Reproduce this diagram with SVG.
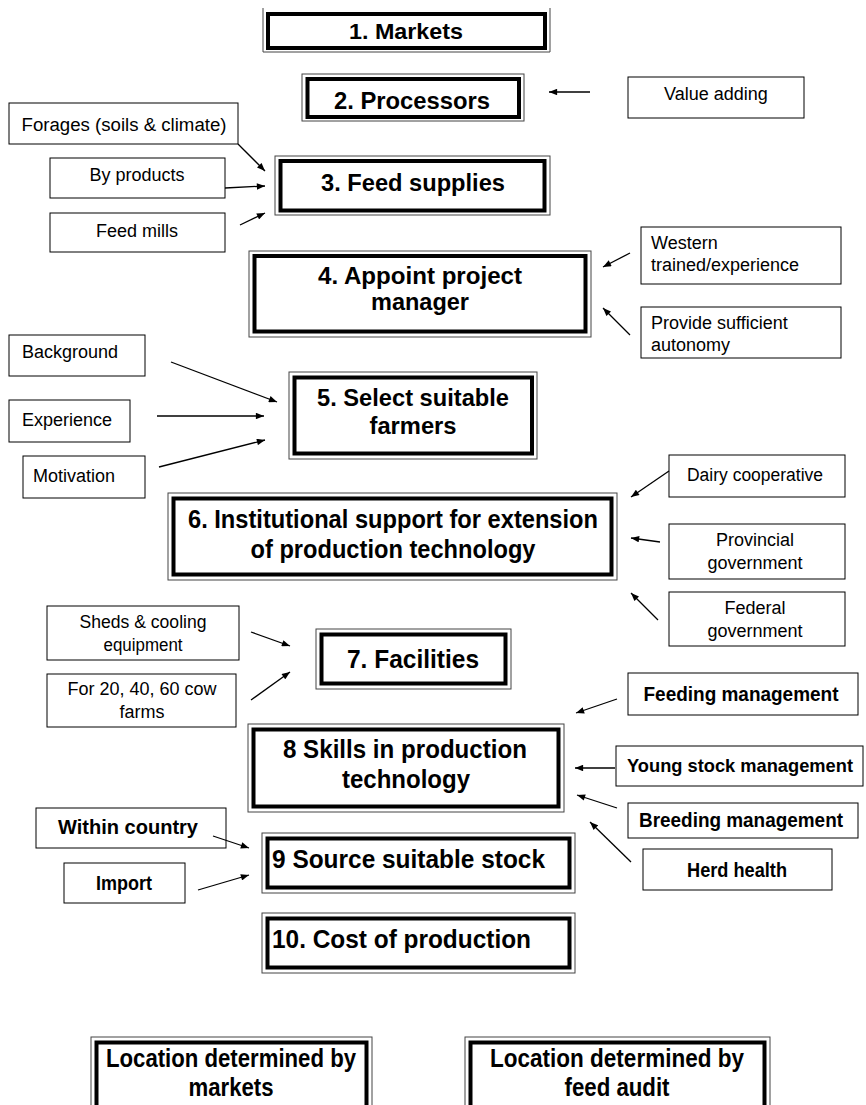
<svg xmlns="http://www.w3.org/2000/svg" width="866" height="1105" viewBox="0 0 866 1105">
<style>
.o{fill:none;stroke:#444;stroke-width:1}
.i{fill:none;stroke:#000;stroke-width:4}
.b{fill:#fff;stroke:#000;stroke-width:1}
.h{font-family:"Liberation Sans",Arial,sans-serif;font-weight:bold;font-size:23px;fill:#000;text-anchor:middle}
.n{font-family:"Liberation Sans",Arial,sans-serif;font-weight:bold;font-size:25px;fill:#000;text-anchor:middle}
.s{font-family:"Liberation Sans",Arial,sans-serif;font-size:18px;fill:#000;text-anchor:middle}
.sl{font-family:"Liberation Sans",Arial,sans-serif;font-size:18px;fill:#000}
.sb{font-family:"Liberation Sans",Arial,sans-serif;font-weight:bold;font-size:21px;fill:#000;text-anchor:middle}
.c line{stroke:#000;stroke-width:1.3;marker-end:url(#a)}
</style>
<defs>
<marker id="a" viewBox="0 0 10 8" refX="10" refY="4" markerWidth="9" markerHeight="6.5" markerUnits="userSpaceOnUse" orient="auto"><path d="M0,0 L10,4 L0,8 z" fill="#000"/></marker>
</defs>
<rect width="866" height="1105" fill="#fff"/>

<g id="n1"><path class="o" d="M263,8 V52 H550 V8"/><rect class="i" x="268" y="14" width="277" height="34"/><text class="h" x="406" y="39" style="font-size:22px" textLength="114" lengthAdjust="spacingAndGlyphs">1. Markets</text></g>
<g id="n2"><rect class="o" x="302" y="74" width="222" height="47"/><rect class="i" x="307.5" y="79" width="211.5" height="38"/><text class="h" x="412" y="109" textLength="156" lengthAdjust="spacingAndGlyphs">2. Processors</text></g>
<g id="va"><rect class="b" x="628" y="77" width="176" height="41"/><text class="s" x="716" y="100">Value adding</text></g>
<g id="fo"><rect class="b" x="9" y="103" width="229" height="41"/><text class="s" x="124" y="131" textLength="205" lengthAdjust="spacingAndGlyphs">Forages (soils &amp; climate)</text></g>
<g id="bp"><rect class="b" x="50" y="158" width="175" height="40"/><text class="s" x="137" y="181">By products</text></g>
<g id="fm"><rect class="b" x="50" y="213" width="175" height="39"/><text class="s" x="137" y="237">Feed mills</text></g>
<g id="n3"><rect class="o" x="275" y="156" width="275" height="59"/><rect class="i" x="280.5" y="161" width="264" height="49.5"/><text class="h" x="413" y="191" textLength="184" lengthAdjust="spacingAndGlyphs">3. Feed supplies</text></g>
<g id="we"><rect class="b" x="641" y="227" width="200" height="57"/><text class="sl" x="651" y="249">Western</text><text class="sl" x="651" y="271">trained/experience</text></g>
<g id="pa"><rect class="b" x="641" y="307" width="200" height="51"/><text class="sl" x="651" y="329">Provide sufficient</text><text class="sl" x="651" y="351">autonomy</text></g>
<g id="n4"><rect class="o" x="249" y="251" width="342" height="86"/><rect class="i" x="254.5" y="256" width="331" height="75.5"/><text class="h" x="420" y="284" textLength="204" lengthAdjust="spacingAndGlyphs">4. Appoint project</text><text class="h" x="420" y="310" textLength="98" lengthAdjust="spacingAndGlyphs">manager</text></g>
<g id="bg"><rect class="b" x="9" y="335" width="136" height="41"/><text class="sl" x="22" y="358">Background</text></g>
<g id="ex"><rect class="b" x="9" y="400" width="121" height="42"/><text class="sl" x="22" y="426">Experience</text></g>
<g id="mo"><rect class="b" x="23" y="456" width="122" height="42"/><text class="sl" x="33" y="482">Motivation</text></g>
<g id="n5"><rect class="o" x="289" y="372" width="248" height="87"/><rect class="i" x="294.5" y="377.5" width="237.5" height="76"/><text class="h" x="413" y="406" textLength="192" lengthAdjust="spacingAndGlyphs">5. Select suitable</text><text class="h" x="413" y="434" textLength="87" lengthAdjust="spacingAndGlyphs">farmers</text></g>
<g id="dc"><rect class="b" x="669" y="455" width="176" height="42"/><text class="s" x="755" y="481" textLength="136" lengthAdjust="spacingAndGlyphs">Dairy cooperative</text></g>
<g id="pg"><rect class="b" x="669" y="524" width="176" height="55"/><text class="s" x="755" y="546">Provincial</text><text class="s" x="755" y="569">government</text></g>
<g id="fg"><rect class="b" x="669" y="592" width="176" height="54"/><text class="s" x="755" y="614">Federal</text><text class="s" x="755" y="637">government</text></g>
<g id="n6"><rect class="o" x="168" y="493" width="449" height="87"/><rect class="i" x="173.5" y="498.5" width="438" height="76"/><text class="n" x="393" y="528" textLength="410" lengthAdjust="spacingAndGlyphs">6. Institutional support for extension</text><text class="n" x="393" y="558" textLength="285" lengthAdjust="spacingAndGlyphs">of production technology</text></g>
<g id="sh"><rect class="b" x="47" y="606" width="192" height="54"/><text class="s" x="143" y="628" textLength="127" lengthAdjust="spacingAndGlyphs">Sheds &amp; cooling</text><text class="s" x="143" y="651" textLength="79" lengthAdjust="spacingAndGlyphs">equipment</text></g>
<g id="fc"><rect class="b" x="47" y="674" width="189" height="53"/><text class="s" x="142" y="695">For 20, 40, 60 cow</text><text class="s" x="142" y="718">farms</text></g>
<g id="n7"><rect class="o" x="316" y="629" width="195" height="60"/><rect class="i" x="321.5" y="634.5" width="184" height="49"/><text class="n" x="413" y="668" textLength="132" lengthAdjust="spacingAndGlyphs">7. Facilities</text></g>
<g id="fd"><rect class="b" x="628" y="673" width="230" height="42"/><text class="sb" x="741" y="701" textLength="195" lengthAdjust="spacingAndGlyphs">Feeding management</text></g>
<g id="ys"><rect class="b" x="616" y="746" width="247" height="40"/><text class="sb" x="740" y="772" style="font-size:19px" textLength="226" lengthAdjust="spacingAndGlyphs">Young stock management</text></g>
<g id="br"><rect class="b" x="628" y="803" width="230" height="35"/><text class="sb" x="741" y="827" textLength="204" lengthAdjust="spacingAndGlyphs">Breeding management</text></g>
<g id="hh"><rect class="b" x="643" y="849" width="189" height="41"/><text class="sb" x="737" y="877" textLength="100" lengthAdjust="spacingAndGlyphs">Herd health</text></g>
<g id="n8"><rect class="o" x="248" y="724" width="316" height="88"/><rect class="i" x="253.5" y="729.5" width="305" height="77"/><text class="n" x="405" y="758" textLength="244" lengthAdjust="spacingAndGlyphs">8 Skills in production</text><text class="n" x="406" y="788" textLength="128" lengthAdjust="spacingAndGlyphs">technology</text></g>
<g id="wc"><rect class="b" x="36" y="808" width="190" height="40"/><text class="sb" x="128" y="834" textLength="140" lengthAdjust="spacingAndGlyphs">Within country</text></g>
<g id="im"><rect class="b" x="64" y="863" width="121" height="40"/><text class="sb" x="124" y="890" textLength="56" lengthAdjust="spacingAndGlyphs">Import</text></g>
<g id="n9"><rect class="o" x="262" y="833" width="313" height="60"/><rect class="i" x="267.5" y="838.5" width="302" height="49"/><text class="n" x="272" y="868" style="text-anchor:start" textLength="273" lengthAdjust="spacingAndGlyphs">9 Source suitable stock</text></g>
<g id="n10"><rect class="o" x="262" y="913" width="313" height="60"/><rect class="i" x="267.5" y="918.5" width="302" height="49"/><text class="n" x="272" y="948" style="text-anchor:start" textLength="259" lengthAdjust="spacingAndGlyphs">10. Cost of production</text></g>
<g id="l1"><rect class="o" x="91" y="1037" width="281" height="90"/><rect class="i" x="96.5" y="1042.5" width="270" height="90"/><text class="n" x="231" y="1067" textLength="250" lengthAdjust="spacingAndGlyphs">Location determined by</text><text class="n" x="231" y="1096" textLength="85" lengthAdjust="spacingAndGlyphs">markets</text></g>
<g id="l2"><rect class="o" x="465" y="1037" width="305" height="90"/><rect class="i" x="470.5" y="1042.5" width="294" height="90"/><text class="n" x="617" y="1067" textLength="254" lengthAdjust="spacingAndGlyphs">Location determined by</text><text class="n" x="617" y="1096" textLength="105" lengthAdjust="spacingAndGlyphs">feed audit</text></g>

<g id="connectors" class="c">
<line x1="590" y1="92" x2="549" y2="92"/>
<line x1="238" y1="144" x2="265" y2="171"/>
<line x1="225" y1="188" x2="265" y2="186"/>
<line x1="240" y1="225" x2="265" y2="213"/>
<line x1="630" y1="253" x2="603" y2="267"/>
<line x1="630" y1="335" x2="603" y2="308"/>
<line x1="171" y1="362" x2="277" y2="402"/>
<line x1="157" y1="416" x2="264" y2="416"/>
<line x1="159" y1="467" x2="265" y2="440"/>
<line x1="669" y1="471" x2="631" y2="497"/>
<line x1="660" y1="542" x2="631" y2="538"/>
<line x1="658" y1="620" x2="631" y2="593"/>
<line x1="251" y1="632" x2="290" y2="646"/>
<line x1="251" y1="700" x2="290" y2="672"/>
<line x1="617" y1="699" x2="576" y2="713"/>
<line x1="615" y1="768" x2="575" y2="768"/>
<line x1="617" y1="808" x2="577" y2="795"/>
<line x1="631" y1="862" x2="590" y2="822"/>
<line x1="213" y1="836" x2="249" y2="848"/>
<line x1="198" y1="890" x2="249" y2="875"/>
</g>
</svg>
